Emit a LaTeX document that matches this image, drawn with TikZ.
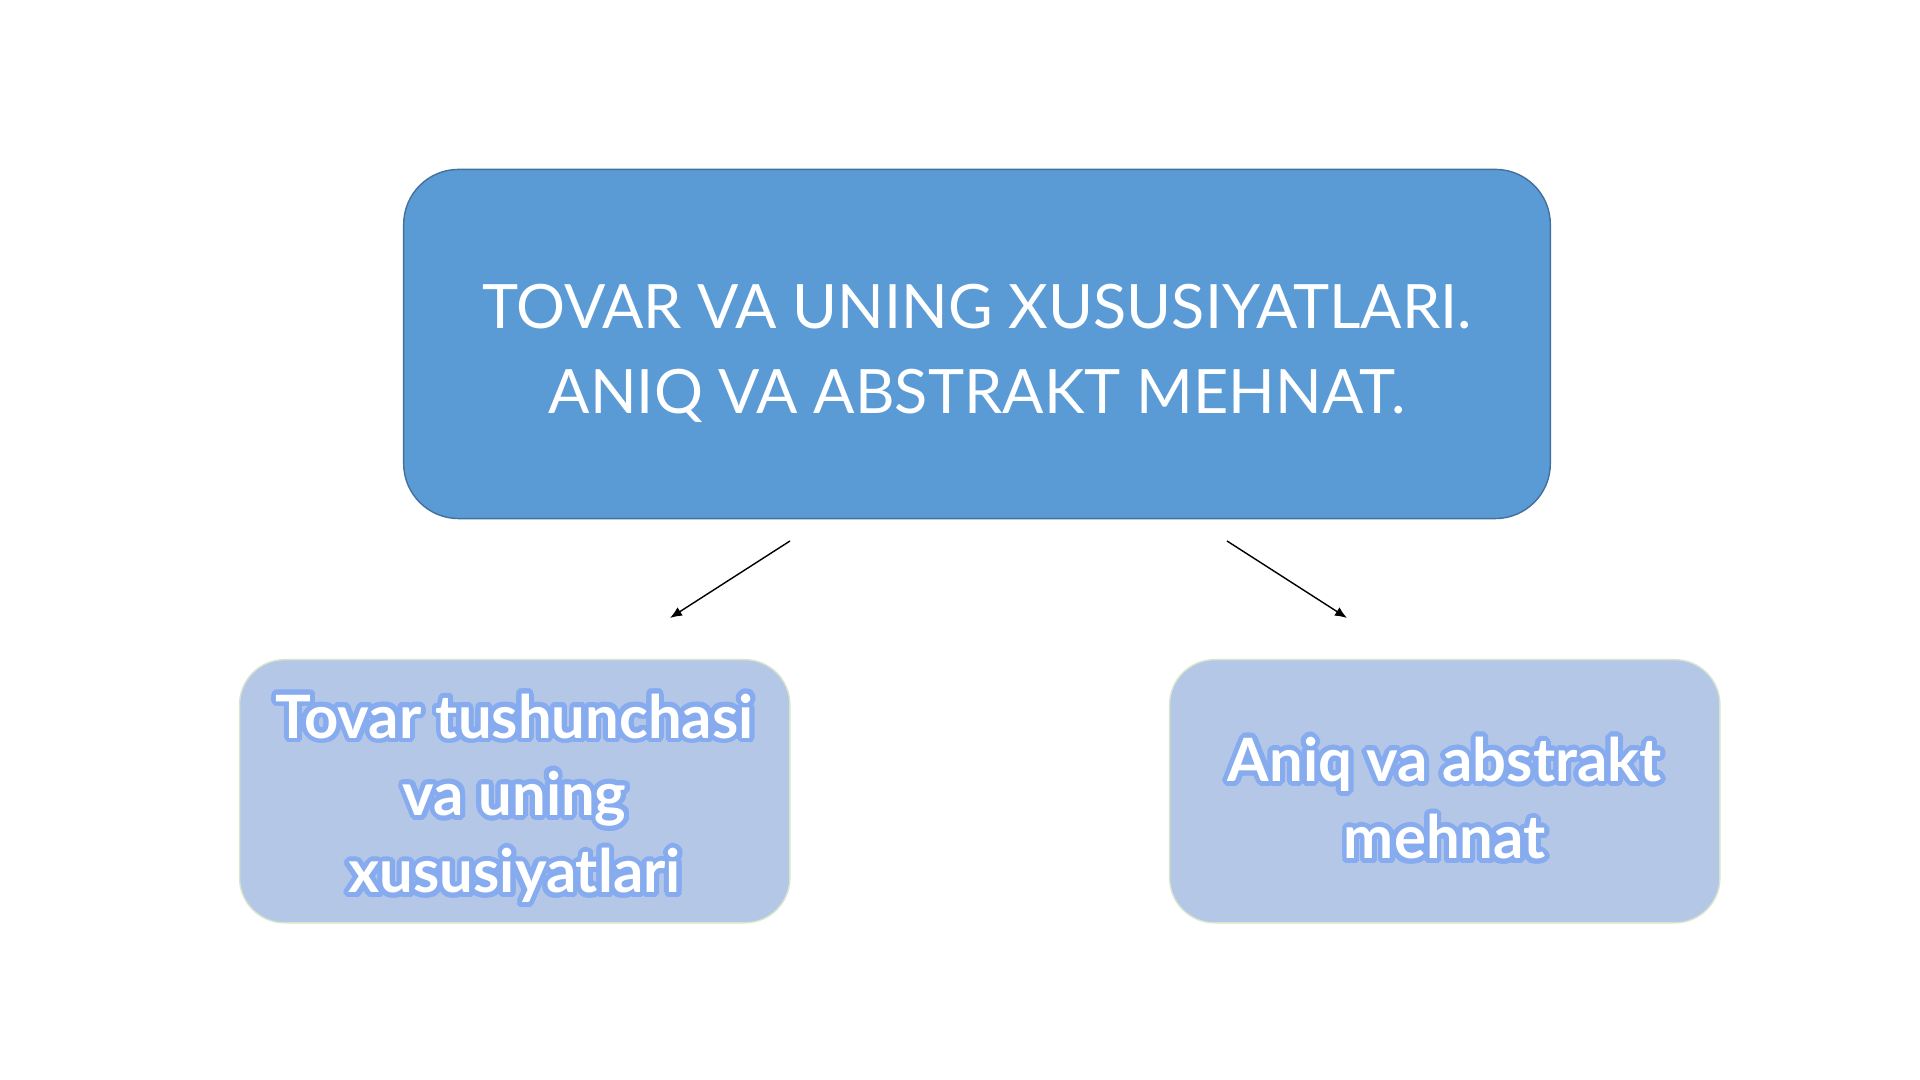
\documentclass[tikz,border=0pt]{standalone}
\usepackage{fontspec}
\setmainfont{Lato}
\usepackage[copies]{contour}
\usetikzlibrary{positioning, arrows.meta}

\definecolor{topblue}{HTML}{5B9BD5}
\definecolor{topedge}{HTML}{41719C}
\definecolor{subblue}{HTML}{B4C7E7}
\definecolor{subedge}{HTML}{D6E5CC}
\definecolor{glowblue}{HTML}{86ABEE}

\contourlength{1.4pt}
\contournumber{24}
\newcommand{\glow}[1]{\contour{glowblue}{#1}}
\newcommand{\dropstrut}{\rule{0pt}{18pt}}

\begin{document}
\begin{tikzpicture}[>={Latex[length=3.4pt,width=2.8pt]}, x=0.01cm, y=0.01cm,
			on grid, thin,
			topbox/.style={draw=topedge, fill=topblue, rounded corners=0.55cm,
				minimum width=11.46cm, minimum height=3.49cm, text=white,
				align=center, font=\fontsize{17.4}{24.2}\selectfont},
			subbox/.style={draw=subedge, fill=subblue, rounded corners=0.45cm,
				minimum width=5.5cm, minimum height=2.63cm, text=white,
				align=center, font=\bfseries\fontsize{17}{22}\selectfont}]
			\useasboundingbox (0,0) rectangle (1920,1080);
			\node[topbox] (top) at (977,736) {\dropstrut TOVAR VA UNING XUSUSIYATLARI.\\ANIQ VA ABSTRAKT MEHNAT.};
			\node[subbox] (tovar) [below left=4.47cm and 4.62cm of top]
				{\dropstrut\glow{Tovar tushunchasi}\\\glow{va uning}\\\glow{xususiyatlari}};
			\node[subbox] (mehnat) [below right=4.47cm and 4.675cm of top]
				{\dropstrut\glow{Aniq va abstrakt}\\\glow{mehnat}};
			
			%strelkalar
			\coordinate (a1) at (790,539);
			\coordinate (a2) at (670,462);
			\coordinate (b1) at (1227,539);
			\coordinate (b2) at (1347,462);
			\draw[->] (a1) -- (a2);
			\draw[->] (b1) -- (b2);
		\end{tikzpicture}
\end{document}
